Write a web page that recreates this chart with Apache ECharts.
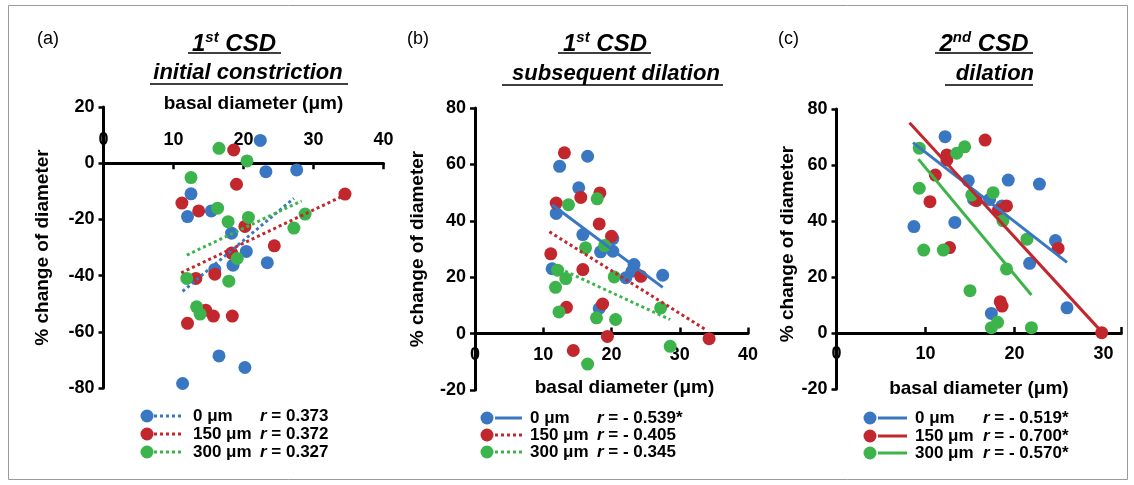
<!DOCTYPE html>
<html><head><meta charset="utf-8">
<script src="https://cdn.jsdelivr.net/npm/echarts@6/dist/echarts.min.js"></script>
<style>html,body{margin:0;padding:0;background:#fff}#c{width:1134px;height:485px}</style>
</head><body><div id="c"></div><script>
// ---------- data ----------
const groupNames = ['0 μm', '150 μm', '300 μm'];
const colors = ['#3a77c2', '#c1272d', '#3cb44b'];

// panel (a) 1st CSD initial constriction
const a0 = [[22.4,8.1],[23.2,-3.0],[27.6,-2.4],[12.5,-10.9],[15.4,-17.0],[12.0,-19.0],[18.3,-24.9],[20.4,-31.4],[18.5,-36.3],[23.4,-35.4],[15.9,-37.8],[16.5,-68.6],[20.2,-72.7],[11.3,-78.4]];
const a150 = [[18.6,4.7],[19.0,-7.5],[34.5,-11.0],[11.2,-14.2],[13.6,-17.0],[20.2,-22.5],[24.4,-29.4],[18.3,-32.0],[15.9,-39.5],[13.2,-41.0],[14.6,-52.3],[15.7,-54.4],[18.4,-54.4],[12.0,-57.0]];
const a300 = [[16.5,5.3],[20.5,0.8],[12.5,-5.1],[16.3,-16.0],[17.8,-20.8],[20.7,-19.3],[28.8,-18.1],[27.2,-23.1],[19.1,-33.9],[11.9,-41.0],[17.9,-42.0],[13.3,-51.1],[13.8,-53.7]];
const aFit0 = [[11.3,-45.6],[27.2,-12.5]];
const aFit150 = [[11.1,-39.0],[34.0,-11.9]];
const aFit300 = [[11.9,-32.7],[28.3,-13.4]];
const aLineTypes = ['dot','dot','dot'];
const aR = ['0.373','0.372','0.327'];

// panel (b) 1st CSD subsequent dilation
const b0 = [[16.5,62.9],[12.4,59.3],[15.2,51.7],[11.9,42.6],[15.8,35.1],[20.2,33.7],[18.4,29.0],[20.2,29.2],[11.3,23.0],[23.3,24.5],[23.0,22.1],[27.5,20.7],[22.1,19.8],[18.2,8.9]];
const b150 = [[13.1,64.1],[18.3,49.9],[15.5,48.3],[11.9,46.3],[18.2,38.9],[20.0,34.5],[11.1,28.3],[15.8,22.7],[24.3,20.3],[13.4,9.3],[18.7,10.5],[19.4,-1.0],[34.3,-1.8],[14.4,-6.0]];
const b300 = [[17.9,47.8],[13.7,45.7],[16.2,30.4],[19.0,31.2],[12.1,22.5],[13.3,19.5],[20.4,20.1],[11.8,16.4],[12.3,7.7],[17.8,5.6],[20.6,5.0],[27.2,9.1],[28.6,-4.5],[16.5,-10.8]];
const bFit0 = [[11.3,45.7],[27.5,16.4]];
const bFit150 = [[10.9,36.1],[33.8,1.4]];
const bFit300 = [[11.6,23.9],[28.6,5.0]];
const bLineTypes = ['solid','dot','dot'];
const bR = ['- 0.539*','- 0.405','- 0.345'];

// panel (c) 2nd CSD dilation
const c0 = [[12.2,70.1],[14.8,54.4],[19.3,54.6],[22.8,53.2],[15.4,47.7],[17.2,47.7],[18.6,45.4],[13.3,39.5],[8.7,38.0],[24.6,33.0],[21.7,24.9],[17.4,7.0],[25.9,9.0]];
const c150 = [[16.7,68.9],[12.4,63.6],[12.4,61.8],[11.1,56.4],[15.7,47.3],[19.1,45.4],[18.2,43.9],[10.5,46.9],[24.9,30.2],[12.7,30.5],[18.4,11.2],[18.6,9.6],[29.8,0.1]];
const c300 = [[14.4,66.5],[13.5,64.2],[9.3,66.0],[9.3,51.7],[17.6,50.1],[15.2,49.3],[18.7,40.1],[21.4,33.5],[9.8,29.6],[12.0,29.6],[19.1,22.9],[15.0,15.1],[18.1,3.8],[17.4,1.9],[21.9,1.9]];
const cFit0 = [[8.6,68.0],[25.9,25.2]];
const cFit150 = [[8.2,75.1],[29.8,0.4]];
const cFit300 = [[9.2,62.1],[21.9,13.6]];
const cLineTypes = ['solid','solid','solid'];
const cR = ['- 0.519*','- 0.700*','- 0.570*'];

// axis ranges [min, max, step]
const xRangeA = [0, 40, 10], yRangeA = [-80, 20, 20];
const xRangeB = [0, 40, 10], yRangeB = [-20, 80, 20];
const xRangeC = [0, 32, 10], yRangeC = [-20, 80, 20];

const panelLetters = ['(a)', '(b)', '(c)'];
const titleLine1 = [['1','st',' CSD'], ['1','st',' CSD'], ['2','nd',' CSD']];
const titleLine2 = ['initial constriction', 'subsequent dilation ', 'dilation '];
const xName = 'basal diameter (μm)';
const yName = '% change of diameter';

// ---------- build ----------
const FONT = '"Liberation Sans", Arial, Helvetica, sans-serif';
const panels = [
  {pts:[a0,a150,a300], fits:[aFit0,aFit150,aFit300], types:aLineTypes, r:aR, xr:xRangeA, yr:yRangeA,
   grid:{left:103.5, top:107, width:280, height:281}, xTop:true, xNameGap:50, xNamePad:20, yNameGap:51, yNamePad:0, labelMargin:14,
   leg:{cx:147, lx1:154, lx2:184, tx:193, rx:260, ys:[416,434,452]},
   title:{x:234, y1:44, y2:73, u1:[188,281,53], u2:[150,348,84]}, letter:{x:37,y:39}},
  {pts:[b0,b150,b300], fits:[bFit0,bFit150,bFit300], types:bLineTypes, r:bR, xr:xRangeB, yr:yRangeB,
   grid:{left:475, top:108, width:273, height:282}, xTop:false, xNameGap:45, xNamePad:26, yNameGap:48, yNamePad:0, labelMargin:12,
   leg:{cx:487, lx1:495, lx2:522, tx:530, rx:597, ys:[418,435,452]},
   title:{x:605, y1:44, y2:74, u1:[558,651,53], u2:[502,723,85]}, letter:{x:407,y:39}},
  {pts:[c0,c150,c300], fits:[cFit0,cFit150,cFit300], types:cLineTypes, r:cR, xr:xRangeC, yr:yRangeC,
   grid:{left:836.5, top:109, width:284.8, height:280}, xTop:false, xNameGap:46, xNamePad:0, yNameGap:35, yNamePad:10, labelMargin:12,
   leg:{cx:870, lx1:878, lx2:907, tx:915, rx:983, ys:[418,436,453]},
   title:{x:984, y1:44, y2:74, u1:[935,1033,53], u2:[945,1033,85]}, letter:{x:778,y:39}}
];

const grids = [], xAxes = [], yAxes = [], series = [], graphics = [];
const tickLabel = {color:'#000', fontFamily:FONT, fontWeight:'bold', fontSize:18};
const lineDash = t => t === 'dot' ? [3, 3] : 'solid';

panels.forEach((p, k) => {
  grids.push(Object.assign({containLabel:false}, p.grid));
  // distance from the grid edge to the y = 0 line, so the x axis sits on zero
  const span = p.yr[1] - p.yr[0];
  const zeroFromTop = p.grid.height * (p.yr[1] / span);
  const zeroFromBottom = p.grid.height * (-p.yr[0] / span);
  xAxes.push({
    gridIndex:k, type:'value', min:p.xr[0], max:p.xr[1], interval:p.xr[2],
    position: p.xTop ? 'top' : 'bottom',
    offset: -(p.xTop ? zeroFromTop : zeroFromBottom),
    axisLine:{onZero:false, lineStyle:{color:'#000', width:3}},
    axisTick:{inside:true, length:6, lineStyle:{color:'#000', width:2.5}},
    axisLabel:Object.assign({margin:p.labelMargin, formatter: v => (v % 10 === 0 ? String(v) : '')}, tickLabel),
    splitLine:{show:false},
    name:xName, nameLocation:'middle', nameGap:p.xNameGap,
    nameTextStyle:{color:'#000', fontFamily:FONT, fontWeight:'bold', fontSize:19, padding:[0,0,0,p.xNamePad]}
  });
  yAxes.push({
    gridIndex:k, type:'value', min:p.yr[0], max:p.yr[1], interval:p.yr[2],
    axisLine:{onZero:false, lineStyle:{color:'#000', width:3}},
    axisTick:{inside:false, length:5, lineStyle:{color:'#000', width:2.5}},
    axisLabel:Object.assign({margin:9}, tickLabel),
    splitLine:{show:false},
    name:yName, nameLocation:'middle', nameGap:p.yNameGap,
    nameTextStyle:{color:'#000', fontFamily:FONT, fontWeight:'bold', fontSize:19, padding:[0,0,0,p.yNamePad]}
  });
  for (let i = 0; i < 3; i++) {
    series.push({
      type:'scatter', name:groupNames[i], xAxisIndex:k, yAxisIndex:k, data:p.pts[i],
      symbol:'circle', symbolSize:13, itemStyle:{color:colors[i], opacity:1}, z:2, silent:true
    });
  }
  for (let i = 0; i < 3; i++) {
    series.push({
      type:'line', xAxisIndex:k, yAxisIndex:k, data:p.fits[i], symbol:'none', showSymbol:false,
      lineStyle:{color:colors[i], width:3, type:lineDash(p.types[i])}, z:3, silent:true
    });
  }
  // panel letter
  graphics.push({type:'text', x:p.letter.x, y:p.letter.y, style:{text:panelLetters[k], font:'18px ' + FONT, fill:'#000', verticalAlign:'middle'}});
  // titles
  const t1 = titleLine1[k];
  graphics.push({type:'text', x:p.title.x, y:p.title.y1, style:{
    text:'{m|' + t1[0] + '}{s|' + t1[1] + '}{m|' + t1[2] + '}', align:'center', verticalAlign:'middle',
    rich:{
      m:{fontFamily:FONT, fontWeight:'bold', fontStyle:'italic', fontSize:24, fill:'#000', lineHeight:27},
      s:{fontFamily:FONT, fontWeight:'bold', fontStyle:'italic', fontSize:15, fill:'#000', verticalAlign:'top', lineHeight:15}
    }}});
  graphics.push({type:'text', x:p.title.x + 14, y:p.title.y2, style:{
    text:titleLine2[k], align:'center', verticalAlign:'middle',
    font:'italic bold 22px ' + FONT, fill:'#000'}});
  [p.title.u1, p.title.u2].forEach(u => graphics.push({type:'line', shape:{x1:u[0], y1:u[2], x2:u[1], y2:u[2]}, style:{stroke:'#000', lineWidth:1.5}}));
  // legend
  for (let i = 0; i < 3; i++) {
    const y = p.leg.ys[i];
    graphics.push({type:'line', shape:{x1:p.leg.lx1, y1:y, x2:p.leg.lx2, y2:y},
      style:{stroke:colors[i], lineWidth:3, lineDash: p.types[i] === 'dot' ? [3,3] : null}});
    graphics.push({type:'circle', shape:{cx:p.leg.cx, cy:y, r:6.5}, style:{fill:colors[i]}});
    graphics.push({type:'text', x:p.leg.tx, y:y, style:{text:groupNames[i], font:'bold 17px ' + FONT, fill:'#000', verticalAlign:'middle'}});
    graphics.push({type:'text', x:p.leg.rx, y:y, style:{
      text:'{i|r}{n| = ' + p.r[i] + '}', verticalAlign:'middle',
      rich:{i:{fontFamily:FONT, fontWeight:'bold', fontStyle:'italic', fontSize:17, fill:'#000'},
            n:{fontFamily:FONT, fontWeight:'bold', fontSize:17, fill:'#000'}}}});
  }
});
// frame
graphics.push({type:'rect', shape:{x:8.5, y:5.5, width:1119, height:474}, style:{fill:null, stroke:'#9a9a9a', lineWidth:1}, z:-1});

const chart = echarts.init(document.getElementById('c'), null, {renderer:'canvas'});
chart.setOption({
  animation:false, backgroundColor:'#fff',
  grid:grids, xAxis:xAxes, yAxis:yAxes, series:series, graphic:graphics
});
</script></body></html>
